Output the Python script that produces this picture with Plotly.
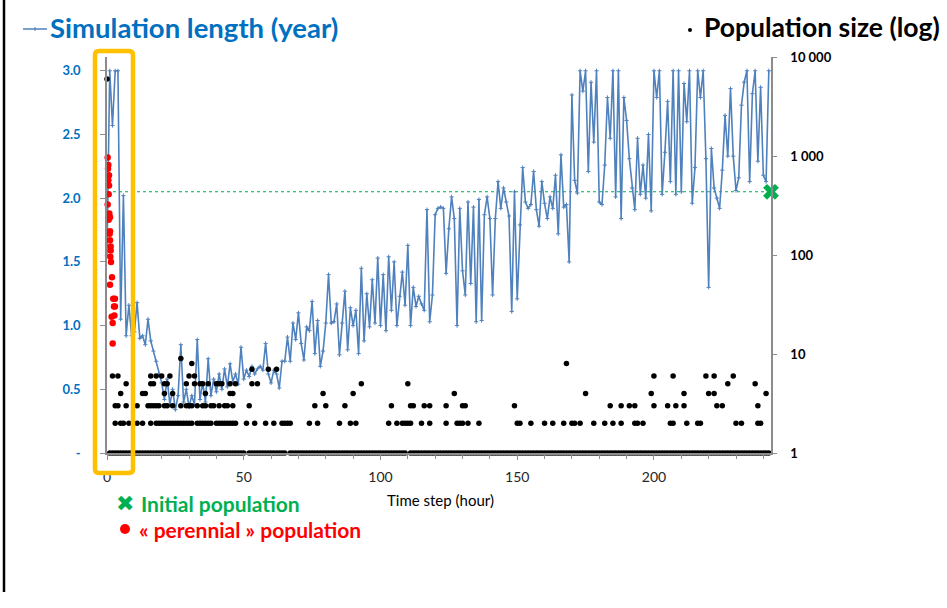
import plotly.graph_objects as go

# ---------------- data ----------------
# Simulation length (year), one value per time step (hour 0 .. 242)
sim_length_years = [
    1.55, 3.00, 2.57, 3.00, 3.00, 1.05, 2.02, 0.92, 1.16, 0.92,
    0.95, 1.18, 0.90, 0.92, 0.85, 1.05, 0.88, 0.80, 0.72, 0.62,
    0.55, 0.42, 0.58, 0.38, 0.50, 0.34, 0.45, 0.85, 0.40, 0.50,
    0.36, 0.45, 0.38, 0.89, 0.42, 0.55, 0.40, 0.74, 0.45, 0.58,
    0.48, 0.62, 0.50, 0.66, 0.52, 0.70, 0.56, 0.62, 0.54, 0.83,
    0.58, 0.65, 0.60, 0.68, 0.62, 0.66, 0.68, 0.65, 0.86, 0.62,
    0.55, 0.65, 0.62, 0.51, 0.72, 0.72, 0.91, 0.72, 1.02, 0.89,
    1.10, 0.86, 0.73, 0.99, 0.96, 1.19, 0.78, 1.04, 0.68, 0.80,
    1.02, 1.40, 1.02, 1.03, 1.17, 0.77, 1.02, 1.27, 0.81, 1.14,
    1.00, 1.12, 0.78, 1.45, 0.88, 1.25, 0.99, 1.36, 1.02, 1.53,
    1.00, 1.40, 0.96, 1.54, 1.12, 1.50, 1.00, 1.23, 1.42, 1.16,
    1.63, 1.00, 1.30, 1.15, 1.23, 1.17, 1.12, 1.91, 1.03, 1.24,
    1.87, 1.92, 1.93, 1.92, 1.41, 1.76, 2.01, 1.84, 1.00, 1.92,
    1.43, 1.24, 1.97, 1.33, 1.93, 1.03, 1.99, 1.04, 1.87, 2.01,
    1.84, 1.24, 1.84, 2.13, 1.92, 2.08, 1.97, 1.86, 1.11, 2.05,
    1.21, 1.79, 2.24, 1.97, 1.92, 1.95, 2.21, 1.91, 1.78, 2.13,
    1.96, 1.84, 2.01, 1.92, 2.18, 1.72, 2.34, 1.93, 1.95, 1.50,
    2.81, 2.14, 2.04, 3.00, 2.84, 3.00, 2.21, 2.91, 2.44, 3.00,
    1.97, 1.95, 2.26, 2.79, 2.47, 3.00, 2.01, 3.00, 1.84, 2.79,
    2.61, 2.31, 2.08, 1.91, 2.47, 2.03, 2.26, 2.00, 2.50, 1.90,
    3.00, 2.79, 3.00, 2.03, 2.36, 2.76, 2.13, 3.00, 2.03, 3.00,
    2.05, 2.90, 2.60, 3.00, 1.96, 2.24, 3.00, 2.79, 3.00, 2.31,
    1.30, 2.39, 2.08, 2.00, 1.92, 2.22, 2.65, 2.33, 2.86, 2.33,
    2.06, 2.16, 2.73, 2.91, 3.00, 2.13, 2.82, 3.00, 2.29, 2.87,
    2.18, 2.13, 3.00,
]
time_steps = list(range(len(sim_length_years)))

# Population sizes (log axis): hours at which a population of given size exists
size1_hours = [
    1, 2, 3, 4, 5, 6, 7, 8, 9, 10, 11, 12, 13, 14, 15, 16, 17, 18, 19, 20,
    21, 22, 23, 24, 25, 26, 27, 28, 29, 30, 31, 32, 33, 34, 35, 36, 37, 38, 39, 40,
    41, 42, 43, 44, 45, 46, 47, 48, 49, 50, 52, 53, 54, 55, 56, 57, 58, 59, 60,
    61, 62, 63, 64, 65, 67, 68, 69, 70, 71, 72, 73, 74, 75, 76, 77, 78, 79, 80,
    81, 82, 83, 84, 85, 86, 87, 88, 89, 90, 91, 92, 93, 94, 95, 96, 97, 98, 99, 100,
    101, 102, 103, 104, 105, 106, 107, 108, 109, 111, 112, 113, 114, 115, 116, 117, 118, 119, 120,
    121, 122, 123, 124, 125, 126, 127, 128, 129, 130, 131, 132, 133, 134, 135, 136, 137, 138, 139, 140,
    141, 142, 143, 144, 145, 146, 147, 148, 149, 150, 151, 152, 153, 154, 155, 156, 157, 158, 159, 160,
    161, 162, 163, 164, 165, 166, 167, 168, 169, 170, 171, 172, 173, 174, 175, 176, 177, 178, 179, 180,
    181, 182, 183, 184, 185, 186, 187, 188, 189, 190, 191, 192, 193, 194, 195, 196, 197, 198, 199, 200,
    201, 202, 203, 204, 205, 206, 207, 208, 209, 210, 211, 212, 213, 214, 215, 216, 217, 218, 219, 220,
    221, 222, 223, 224, 225, 226, 227, 228, 229, 230, 231, 232, 233, 234, 235, 236, 237, 238, 239, 240,
    241, 242,
]
size2_hours = [3, 5, 6, 8, 11, 13, 16, 18, 19, 20, 21, 22, 23, 24, 25, 26, 27, 28, 29, 30,
               31, 33, 34, 35, 36, 37, 38, 40, 41, 42, 43, 44, 45, 46, 47, 51, 54, 58, 61, 64,
               65, 66, 67, 74, 77, 85, 89, 91, 103, 106, 108, 109, 110, 111, 115, 118, 124, 128,
               129, 130, 132, 136, 150, 151, 155, 160, 163, 167, 170, 171, 173, 178, 182, 185,
               188, 193, 194, 196, 206, 207, 212, 216, 217, 230, 232, 238, 239]
size3_hours = [3, 4, 7, 11, 15, 16, 17, 18, 19, 21, 22, 24, 27, 29, 30, 31, 33, 35, 36, 38,
               39, 41, 43, 44, 46, 52, 76, 80, 87, 104, 111, 112, 116, 118, 124, 130, 131, 149,
               184, 188, 191, 193, 200, 205, 208, 211, 223, 225, 238]
size4_hours = [5, 13, 14, 21, 24, 36, 45, 46, 79, 90, 127, 175, 199, 211, 220, 222, 241]
size5_hours = [7, 16, 17, 21, 22, 29, 32, 34, 35, 37, 40, 41, 42, 45, 47, 53, 55, 93, 110, 227, 237]
size6_hours = [2, 4, 16, 18, 20, 23, 30, 32, 200, 207, 219, 222, 229]
size7_hours = [53, 59, 62]
size8_hours = [31, 168]
size9_hours = [27]
size_initial_hours = [0]
size_initial_value = 6000

# "perennial" populations (red), time step and simulation length (year)
perennial_hours = [0.24, 0.48, 0.37, 0.73, 0.49, 0.73, 0.61, 0.24, 0.85, 1.10, 0.61, 1.10,
                   0.98, 1.10, 1.34, 1.34, 1.22, 1.46, 1.83, 1.10, 2.30, 2.90, 2.56, 2.90,
                   1.70, 2.70, 2.07, 2.07]
perennial_years = [2.32, 2.26, 2.23, 2.18, 2.14, 2.10, 2.03, 1.95, 1.88, 1.85, 1.83, 1.74,
                   1.72, 1.67, 1.62, 1.59, 1.54, 1.50, 1.38, 1.32, 1.21, 1.21, 1.15, 1.15,
                   1.07, 1.08, 1.02, 0.86]

# Initial population reference level (year axis)
initial_level_year = 2.05

x_tick_vals = [0, 50, 100, 150, 200]
y_tick_vals = [0, 0.5, 1.0, 1.5, 2.0, 2.5, 3.0]
y_tick_text = ["-", "0.5", "1.0", "1.5", "2.0", "2.5", "3.0"]
y2_tick_vals = [1, 10, 100, 1000, 10000]
y2_tick_text = ["1", "10", "100", "1 000", "10 000"]

# ---------------- styling / layout ----------------
W, H = 947, 608
L, R, T, B = 107, 771, 57, 453
X_MAX = 242.8
Y_MAX = 3.108

BLUE_LINE = "#4F81BD"
BLUE_TXT = "#0070C0"
GREEN = "#00B050"
RED = "#FF0000"
YELLOW = "#FFC000"
AXIS = "#8C8C8C"
FONT = "Lato, 'Open Sans', sans-serif"


def px(x):
    return (x - L) / (R - L)


def py(y):
    return (B - y) / (B - T)


fig = go.Figure()

# green dotted reference line
fig.add_trace(go.Scatter(
    x=[0, X_MAX], y=[initial_level_year, initial_level_year], mode="lines",
    line=dict(color=GREEN, width=1.1, dash="dot"), hoverinfo="skip", yaxis="y"))

# simulation length line
fig.add_trace(go.Scatter(
    x=time_steps, y=sim_length_years, mode="lines+markers",
    line=dict(color=BLUE_LINE, width=1.6),
    marker=dict(symbol="cross-thin", size=3, line=dict(color=BLUE_LINE, width=1)),
    yaxis="y", cliponaxis=False))

# perennial populations
fig.add_trace(go.Scatter(
    x=perennial_hours, y=perennial_years, mode="markers",
    marker=dict(color=RED, size=6.5), yaxis="y", cliponaxis=False))

# population sizes (log axis)
pop_x, pop_y = [], []
for hours, size in [(size1_hours, 1), (size2_hours, 2), (size3_hours, 3), (size4_hours, 4),
                    (size5_hours, 5), (size6_hours, 6), (size7_hours, 7), (size8_hours, 8),
                    (size9_hours, 9), (size_initial_hours, size_initial_value)]:
    pop_x += hours
    pop_y += [size] * len(hours)
fig.add_trace(go.Scatter(
    x=pop_x, y=pop_y, mode="markers", marker=dict(color="black", size=5.5),
    yaxis="y2", cliponaxis=False))

# initial population marker
fig.add_trace(go.Scatter(
    x=[X_MAX], y=[initial_level_year], mode="markers",
    marker=dict(symbol="x", color=GREEN, size=14, line=dict(width=0)),
    yaxis="y", cliponaxis=False))

fig.update_layout(
    width=W, height=H, autosize=False,
    margin=dict(l=L, r=W - R, t=T, b=H - B, pad=0),
    plot_bgcolor="white", paper_bgcolor="white", showlegend=False,
    font=dict(family=FONT),
    xaxis=dict(
        range=[0, X_MAX], tickmode="array", tickvals=x_tick_vals,
        ticks="outside", ticklen=5, tickcolor=AXIS, tickwidth=1,
        showline=True, linecolor=AXIS, linewidth=1.5, showgrid=False, zeroline=False,
        tickfont=dict(size=14, color="#262626", family=FONT),
        ticklabelstandoff=5,
        minor=dict(dtick=10, tick0=0, ticks="outside", ticklen=4, tickcolor=AXIS, showgrid=False),
    ),
    yaxis=dict(
        range=[0, Y_MAX], tickmode="array", tickvals=y_tick_vals, ticktext=y_tick_text,
        ticks="outside", ticklen=5, tickcolor=AXIS,
        showline=True, linecolor=AXIS, linewidth=1.5, showgrid=False, zeroline=False,
        tickfont=dict(size=13, color=BLUE_TXT, family=FONT, weight="bold"),
        ticklabelstandoff=17,
    ),
    yaxis2=dict(
        type="log", range=[0, 4], overlaying="y", side="right",
        tickmode="array", tickvals=y2_tick_vals, ticktext=y2_tick_text,
        ticks="outside", ticklen=4, tickcolor=AXIS,
        showline=True, linecolor=AXIS, linewidth=1.5, showgrid=False, zeroline=False,
        tickfont=dict(size=13, color="black", family=FONT, weight="bold"),
        ticklabelstandoff=11,
    ),
)

annotations = [
    dict(text="<b>Simulation length (year)</b>", x=px(48), y=py(27), xanchor="left", yanchor="middle",
         font=dict(size=27.5, color=BLUE_TXT, family=FONT)),
    dict(text="<b>Population size (log)</b>", x=px(702), y=py(27), xanchor="left", yanchor="middle",
         font=dict(size=26.5, color="black", family=FONT)),
    dict(text="Time step (hour)", x=px(440), y=py(500), xanchor="center", yanchor="middle",
         font=dict(size=15, color="black", family=FONT)),
    dict(text="\u2716", x=px(125), y=py(503), xanchor="center", yanchor="middle",
         font=dict(size=22, color=GREEN, family="DejaVu Sans")),
    dict(text="<b>Initial population</b>", x=px(139), y=py(503), xanchor="left", yanchor="middle",
         font=dict(size=21, color=GREEN, family=FONT)),
    dict(text="<b>\u00ab perennial \u00bb population</b>", x=px(137), y=py(529), xanchor="left",
         yanchor="middle", font=dict(size=21, color=RED, family=FONT)),
]
for a in annotations:
    a.update(xref="paper", yref="paper", showarrow=False)
fig.update_layout(annotations=annotations)

# rounded yellow frame around the first hours
x0, x1, y0, y1, r = 95, 133, 51, 473, 4
pts = (f"M {px(x0 + r)},{py(y0)} L {px(x1 - r)},{py(y0)} Q {px(x1)},{py(y0)} {px(x1)},{py(y0 + r)} "
       f"L {px(x1)},{py(y1 - r)} Q {px(x1)},{py(y1)} {px(x1 - r)},{py(y1)} "
       f"L {px(x0 + r)},{py(y1)} Q {px(x0)},{py(y1)} {px(x0)},{py(y1 - r)} "
       f"L {px(x0)},{py(y0 + r)} Q {px(x0)},{py(y0)} {px(x0 + r)},{py(y0)} Z")

shapes = [
    dict(type="path", path=pts, line=dict(color=YELLOW, width=4.5), layer="above"),
    # legend icon for the blue line
    dict(type="line", x0=px(23), x1=px(47), y0=py(29), y1=py(29), line=dict(color=BLUE_LINE, width=1.5)),
    dict(type="line", x0=px(35), x1=px(35), y0=py(27), y1=py(31), line=dict(color=BLUE_LINE, width=1)),
    # legend icon for the black dots
    dict(type="circle", x0=px(688), x1=px(692), y0=py(28), y1=py(32), fillcolor="black",
         line=dict(color="black", width=0)),
    # red legend dot
    dict(type="circle", x0=px(120), x1=px(130), y0=py(524), y1=py(534), fillcolor=RED,
         line=dict(color=RED, width=0)),
    # left border of the slide
    dict(type="line", x0=px(4), x1=px(4), y0=py(0), y1=py(592), line=dict(color="black", width=2.5)),
]
for s in shapes:
    s.update(xref="paper", yref="paper")
fig.update_layout(shapes=shapes)

fig.write_html("out.html")
